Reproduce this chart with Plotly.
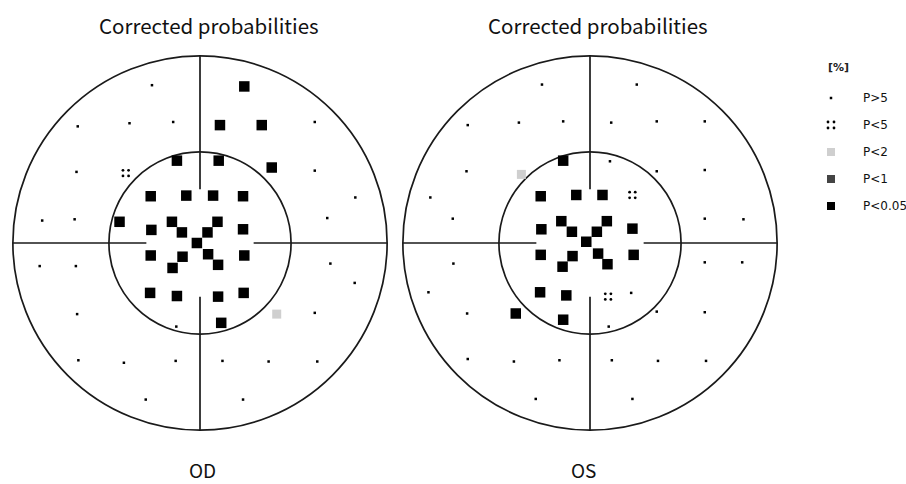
import numpy as np
import plotly.graph_objects as go

W, H = 906, 484
FONT = "Noto Sans CJK SC, Noto Sans, sans-serif"
LEG_FONT = "DejaVu Sans, sans-serif"

# ---------------- data (degrees, x = horizontal, y = vertical) ----------------
# OD (left eye)
od_p005_x = [7.1, 3.2, 9.9, 11.5, -3.7, 3.0, -7.9, -2.2, 2.1, 6.9, -12.9, -7.8, -4.5, -2.9, 2.8, 1.2,
             -0.5, 6.9, -7.9, -2.8, -4.4, 1.3, 2.9, 7.1, -8.0, -3.7, 2.9, 7.0, 3.4]
od_p005_y = [25.1, 18.9, 18.9, 12.1, 13.2, 13.2, 7.5, 7.6, 7.6, 7.5, 3.4, 2.1, 3.4, 1.7, 3.4, 1.7,
             0.0, 2.2, -2.0, -2.2, -4.0, -1.8, -3.5, -2.0, -8.0, -8.5, -8.6, -8.0, -12.8]
od_p2_x = [12.3]
od_p2_y = [-11.4]
od_p5_x = [-11.9]
od_p5_y = [11.2]
od_ns_x = [-7.7, -19.6, -11.3, -4.3, 18.4, -19.8, 18.4, 24.9, -25.3, -20.1, 20.4, -25.7, -19.9, 20.9,
           24.8, -19.7, 18.4, -3.8, -19.5, -12.2, -3.9, 3.6, 11.0, 18.8, -8.7, 6.9]
od_ns_y = [25.3, 18.7, 19.2, 19.4, 19.4, 11.4, 11.6, 7.3, 3.6, 3.8, 4.0, -3.7, -3.7, -3.3,
           -6.4, -11.4, -11.2, -13.4, -18.8, -19.2, -18.9, -18.9, -19.0, -19.0, -25.1, -25.1]

# OS (right eye)
os_p005_x = [-4.3, -7.9, -2.2, 2.0, -7.8, -4.6, -2.9, 2.7, 1.1, -0.6, 6.8, -7.9, -2.8, -4.4, 1.3, 2.8,
             7.0, -8.0, -3.8, -11.9, -4.3]
os_p005_y = [13.2, 7.5, 7.7, 7.7, 2.2, 3.5, 1.8, 3.5, 1.8, 0.2, 2.3, -1.9, -2.1, -3.8, -1.7, -3.4,
             -1.9, -7.9, -8.4, -11.3, -12.3]
os_p2_x = [-11.0]
os_p2_y = [11.0]
os_p5_x = [6.8, 2.9]
os_p5_y = [7.7, -8.6]
os_ns_x = [-7.7, 7.5, -19.6, -11.4, -4.3, 3.4, 10.7, 18.4, -19.8, 3.2, 10.7, 18.4, -25.6, -22.0, 18.4,
           24.6, -21.9, 18.4, 24.4, -25.9, -19.7, 10.7, 18.4, 3.0, -19.6, -12.2, -4.9, 3.5, 10.9,
           18.6, -8.7, 6.8, 6.6]
os_ns_y = [25.4, 25.4, 18.9, 19.3, 19.5, 19.3, 19.5, 19.5, 11.5, 13.1, 11.5, 11.7, 7.3, 3.9, 3.9,
           3.8, -3.3, -3.1, -3.1, -7.9, -11.3, -11.0, -11.1, -13.4, -18.6, -19.0, -18.8, -18.8, -18.9,
           -18.9, -25.0, -25.0, -8.0]

titles = ["Corrected probabilities", "Corrected probabilities"]
eye_labels = ["OD", "OS"]
legend_title = "<b>[%]</b>"
legend_labels = ["P>5", "P<5", "P<2", "P<1", "P<0.05"]

OUTER_R = 30.0
INNER_R = 14.6
CROSS_START = 8.6

# ---------------- styles ----------------
BLACK = "#000000"
LIGHT = "#cfcfcf"
DARK = "#444444"
LINE = "#1a1a1a"

# pixel layout of the two plots (outer circle bounding boxes)
panels = [
    dict(x0=11, x1=389, y0=54, y1=432, title_x=209, label_x=202),
    dict(x0=401, x1=779, y0=54, y1=432, title_x=598, label_x=583),
]

fig = go.Figure()


def four_dots(xs, ys, d=0.45):
    ox, oy = [], []
    for x, y in zip(xs, ys):
        for sx in (-d, d):
            for sy in (-d, d):
                ox.append(x + sx)
                oy.append(y + sy)
    return ox, oy


datasets = [
    (od_ns_x, od_ns_y, od_p5_x, od_p5_y, od_p2_x, od_p2_y, od_p005_x, od_p005_y),
    (os_ns_x, os_ns_y, os_p5_x, os_p5_y, os_p2_x, os_p2_y, os_p005_x, os_p005_y),
]

shapes = []
annotations = []
for i, (pan, ds) in enumerate(zip(panels, datasets)):
    n = i + 1
    xa = "x" if n == 1 else f"x{n}"
    ya = "y" if n == 1 else f"y{n}"
    ns_x, ns_y, p5_x, p5_y, p2_x, p2_y, p005_x, p005_y = ds
    fig.add_trace(go.Scatter(x=ns_x, y=ns_y, mode="markers", xaxis=xa, yaxis=ya,
                             marker=dict(symbol="square", size=2.5, color=BLACK, line=dict(width=0)),
                             showlegend=False, hoverinfo="skip"))
    fx, fy = four_dots(p5_x, p5_y)
    fig.add_trace(go.Scatter(x=fx, y=fy, mode="markers", xaxis=xa, yaxis=ya,
                             marker=dict(symbol="circle", size=2.8, color=BLACK, line=dict(width=0)),
                             showlegend=False, hoverinfo="skip"))
    fig.add_trace(go.Scatter(x=p2_x, y=p2_y, mode="markers", xaxis=xa, yaxis=ya,
                             marker=dict(symbol="square", size=9, color=LIGHT, line=dict(width=0)),
                             showlegend=False, hoverinfo="skip"))
    fig.add_trace(go.Scatter(x=p005_x, y=p005_y, mode="markers", xaxis=xa, yaxis=ya,
                             marker=dict(symbol="square", size=10.5, color=BLACK, line=dict(width=0)),
                             showlegend=False, hoverinfo="skip"))

    ref = dict(xref=xa, yref=ya)
    shapes.append(dict(type="circle", x0=-OUTER_R, x1=OUTER_R, y0=-OUTER_R, y1=OUTER_R,
                       line=dict(color=LINE, width=1.7), layer="below", **ref))
    shapes.append(dict(type="circle", x0=-INNER_R, x1=INNER_R, y0=-INNER_R, y1=INNER_R,
                       line=dict(color=LINE, width=1.7), layer="below", **ref))
    for (dx, dy) in [(1, 0), (-1, 0), (0, 1), (0, -1)]:
        shapes.append(dict(type="line", x0=dx * CROSS_START, y0=dy * CROSS_START,
                           x1=dx * OUTER_R, y1=dy * OUTER_R,
                           line=dict(color=LINE, width=1.7), layer="below", **ref))

    xd = [pan["x0"] / W, pan["x1"] / W]
    yd = [(H - pan["y1"]) / H, (H - pan["y0"]) / H]
    ax = dict(domain=xd, range=[-OUTER_R - 0.3, OUTER_R + 0.3], visible=False, fixedrange=True)
    ay = dict(domain=yd, range=[-OUTER_R - 0.3, OUTER_R + 0.3], visible=False, fixedrange=True)
    fig.update_layout(**{("xaxis" if n == 1 else f"xaxis{n}"): ax,
                         ("yaxis" if n == 1 else f"yaxis{n}"): ay})
    annotations.append(dict(text=titles[i], x=pan["title_x"] / W, y=1 - 25 / H, xref="paper", yref="paper",
                            showarrow=False, font=dict(family=FONT, size=20.5, color="#111"),
                            xanchor="center", yanchor="middle"))
    annotations.append(dict(text=eye_labels[i], x=pan["label_x"] / W, y=1 - 469 / H,
                            xref="paper", yref="paper",
                            showarrow=False, font=dict(family=FONT, size=19, color="#111"),
                            xanchor="center", yanchor="middle"))

# ---------------- manual legend (axis in pixel units) ----------------
leg_sym_x = 831
leg_txt_x = 861
leg_title_y = 67
leg_ys = [98, 125, 152, 179, 206]
fig.add_trace(go.Scatter(x=[leg_sym_x], y=[leg_ys[0]], mode="markers", xaxis="x3", yaxis="y3",
                         marker=dict(symbol="square", size=2.5, color=BLACK), showlegend=False,
                         hoverinfo="skip"))
lx, ly = [], []
for sx in (-3, 3):
    for sy in (-3, 3):
        lx.append(leg_sym_x + sx)
        ly.append(leg_ys[1] + sy)
fig.add_trace(go.Scatter(x=lx, y=ly, mode="markers", xaxis="x3", yaxis="y3",
                         marker=dict(symbol="circle", size=2.8, color=BLACK), showlegend=False,
                         hoverinfo="skip"))
fig.add_trace(go.Scatter(x=[leg_sym_x, leg_sym_x, leg_sym_x], y=leg_ys[2:], mode="markers",
                         xaxis="x3", yaxis="y3",
                         marker=dict(symbol="square", size=8, color=[LIGHT, DARK, BLACK], line=dict(width=0)),
                         showlegend=False, hoverinfo="skip"))
fig.update_layout(
    xaxis3=dict(domain=[800 / W, 1], range=[800, 906], visible=False, fixedrange=True),
    yaxis3=dict(domain=[0, 1], range=[484, 0], visible=False, fixedrange=True),
)
annotations.append(dict(text=legend_title, x=826, y=leg_title_y, xref="x3", yref="y3", showarrow=False,
                        xanchor="left", yanchor="middle",
                        font=dict(family=LEG_FONT, size=11, color="#222")))
for lab, yy in zip(legend_labels, leg_ys):
    annotations.append(dict(text=lab, x=leg_txt_x, y=yy, xref="x3", yref="y3", showarrow=False,
                            xanchor="left", yanchor="middle",
                            font=dict(family=LEG_FONT, size=12, color="#111")))

fig.update_layout(
    width=W, height=H,
    margin=dict(l=0, r=0, t=0, b=0),
    paper_bgcolor="white", plot_bgcolor="white",
    shapes=shapes, annotations=annotations,
    showlegend=False,
)

fig.write_html("out.html", config={"displayModeBar": False},
               post_script="document.body.style.margin='0';document.body.style.overflow='hidden';")
